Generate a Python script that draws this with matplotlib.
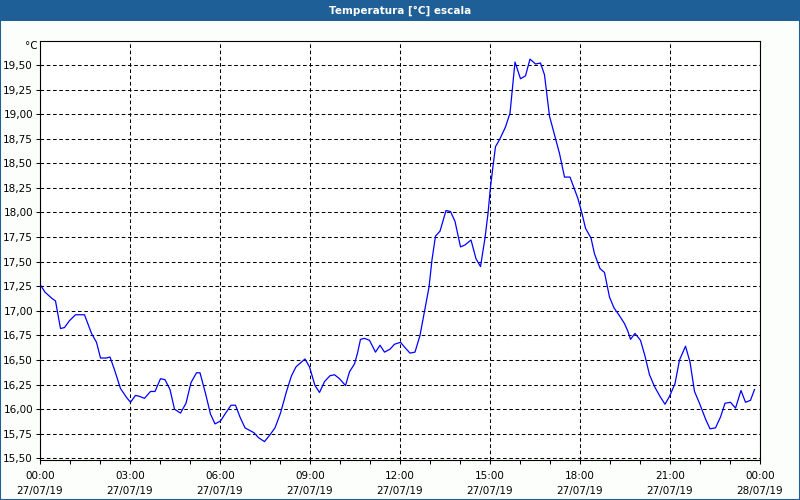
import numpy as np
import matplotlib
matplotlib.use('Agg')
import matplotlib.pyplot as plt
import matplotlib.dates as mdates
from matplotlib.ticker import MultipleLocator, FuncFormatter
from matplotlib.patches import Rectangle

title = 'Temperatura [°C] escala'
unit = '°C'
start = np.datetime64('2019-07-27T00:00')

# hours after midnight of 27/07/19
hours = [
    0.00, 0.16, 0.38, 0.51, 0.68, 0.82, 0.99, 1.18, 1.49, 1.71, 1.88, 2.02,
    2.21, 2.33, 2.49, 2.69, 2.88, 3.01, 3.18, 3.32, 3.49, 3.68, 3.84, 4.02,
    4.16, 4.33, 4.49, 4.68, 4.86, 5.04, 5.21, 5.34, 5.51, 5.68, 5.84, 6.02,
    6.16, 6.36, 6.51, 6.66, 6.84, 7.13, 7.29, 7.49, 7.66, 7.84, 8.02, 8.21,
    8.38, 8.54, 8.71, 8.84, 8.99, 9.16, 9.32, 9.49, 9.66, 9.82, 9.99, 10.18,
    10.32, 10.49, 10.58, 10.69, 10.82, 10.99, 11.18, 11.34, 11.49, 11.66, 11.82, 12.02,
    12.18, 12.33, 12.50, 12.67, 12.84, 12.96, 13.07, 13.18, 13.33, 13.54, 13.68, 13.84,
    14.01, 14.16, 14.36, 14.54, 14.69, 14.84, 14.93, 15.02, 15.10, 15.18, 15.32, 15.51,
    15.66, 15.77, 15.84, 16.01, 16.18, 16.34, 16.51, 16.68, 16.82, 16.99, 17.16, 17.32,
    17.49, 17.66, 17.80, 17.93, 18.07, 18.18, 18.36, 18.49, 18.66, 18.82, 18.99, 19.13,
    19.32, 19.49, 19.60, 19.69, 19.84, 20.02, 20.16, 20.32, 20.49, 20.66, 20.84, 20.99,
    21.16, 21.32, 21.51, 21.66, 21.82, 21.99, 22.18, 22.34, 22.51, 22.68, 22.84, 23.01,
    23.18, 23.36, 23.52, 23.68, 23.82,
]
temps = [
    17.27, 17.19, 17.13, 17.10, 16.82, 16.83, 16.90, 16.96, 16.96, 16.77, 16.68, 16.52,
    16.52, 16.53, 16.40, 16.21, 16.12, 16.07, 16.14, 16.13, 16.11, 16.18, 16.18, 16.31,
    16.30, 16.20, 16.00, 15.96, 16.06, 16.27, 16.37, 16.37, 16.16, 15.95, 15.85, 15.88,
    15.95, 16.04, 16.04, 15.92, 15.81, 15.76, 15.71, 15.67, 15.74, 15.81, 15.96, 16.18,
    16.34, 16.43, 16.48, 16.51, 16.43, 16.24, 16.17, 16.28, 16.34, 16.35, 16.31, 16.24,
    16.38, 16.46, 16.57, 16.71, 16.72, 16.70, 16.58, 16.65, 16.58, 16.61, 16.66, 16.68,
    16.62, 16.57, 16.58, 16.75, 17.02, 17.24, 17.52, 17.76, 17.81, 18.02, 18.01, 17.91,
    17.65, 17.67, 17.72, 17.53, 17.45, 17.74, 17.99, 18.26, 18.47, 18.67, 18.74, 18.87,
    19.01, 19.32, 19.53, 19.36, 19.39, 19.56, 19.51, 19.52, 19.40, 18.98, 18.77, 18.60,
    18.36, 18.36, 18.25, 18.14, 17.99, 17.84, 17.74, 17.58, 17.43, 17.39, 17.14, 17.03,
    16.95, 16.87, 16.79, 16.71, 16.77, 16.70, 16.54, 16.35, 16.23, 16.13, 16.05, 16.13,
    16.26, 16.50, 16.64, 16.48, 16.18, 16.06, 15.90, 15.80, 15.81, 15.92, 16.06, 16.07,
    16.01, 16.19, 16.07, 16.09, 16.20,
]

times = start + (np.array(hours) * 60).round().astype(int).astype('timedelta64[m]')

bar_color = '#1d5f96'
plt.rcParams['font.family'] = 'DejaVu Sans'

fig = plt.figure(figsize=(8, 5), dpi=100, facecolor='#fcfefc')
ax = fig.add_axes([0.05, 0.08, 0.90, 0.8386])

# title bar and outer border
fig.patches.append(Rectangle((0, 1 - 21 / 500), 1, 21 / 500, transform=fig.transFigure,
                             facecolor=bar_color, edgecolor='none', zorder=0))
fig.patches.append(Rectangle((0, 0), 1, 1, transform=fig.transFigure, fill=False,
                             edgecolor=bar_color, lw=1.5, zorder=1))
fig.text(0.5, 1 - 10.5 / 500, title, ha='center', va='center', color='white',
         fontsize=7.5, fontweight='bold')
fig.text(38 / 800, 1 - 46 / 500, unit, ha='right', va='center', fontsize=7.5)

ax.plot(times, temps, color='#0000ff', lw=0.9)

ax.set_xlim(start, start + np.timedelta64(24, 'h'))
ax.set_ylim(15.483, 19.747)
ax.xaxis.set_major_locator(mdates.HourLocator(byhour=range(0, 24, 3)))
ax.xaxis.set_minor_locator(mdates.HourLocator())
ax.xaxis.set_major_formatter(mdates.DateFormatter('%H:%M\n%d/%m/%y'))
ax.yaxis.set_major_locator(MultipleLocator(0.25))
ax.yaxis.set_major_formatter(FuncFormatter(lambda v, p: f'{v:.2f}'.replace('.', ',')))

ax.grid(True, which='major', color='black', linestyle=(0, (3.5, 2.5)), lw=0.75)
ax.tick_params(axis='both', which='both', direction='out', length=3, width=0.75,
               labelsize=7.5, colors='black')
ax.tick_params(axis='x', pad=5)
ax.tick_params(axis='y', pad=2)
for label in ax.get_xticklabels():
    label.set_linespacing(1.6)
for s in ax.spines.values():
    s.set_linewidth(0.8)
ax.set_facecolor('white')

fig.savefig('out.png', dpi=100, facecolor=fig.get_facecolor())
